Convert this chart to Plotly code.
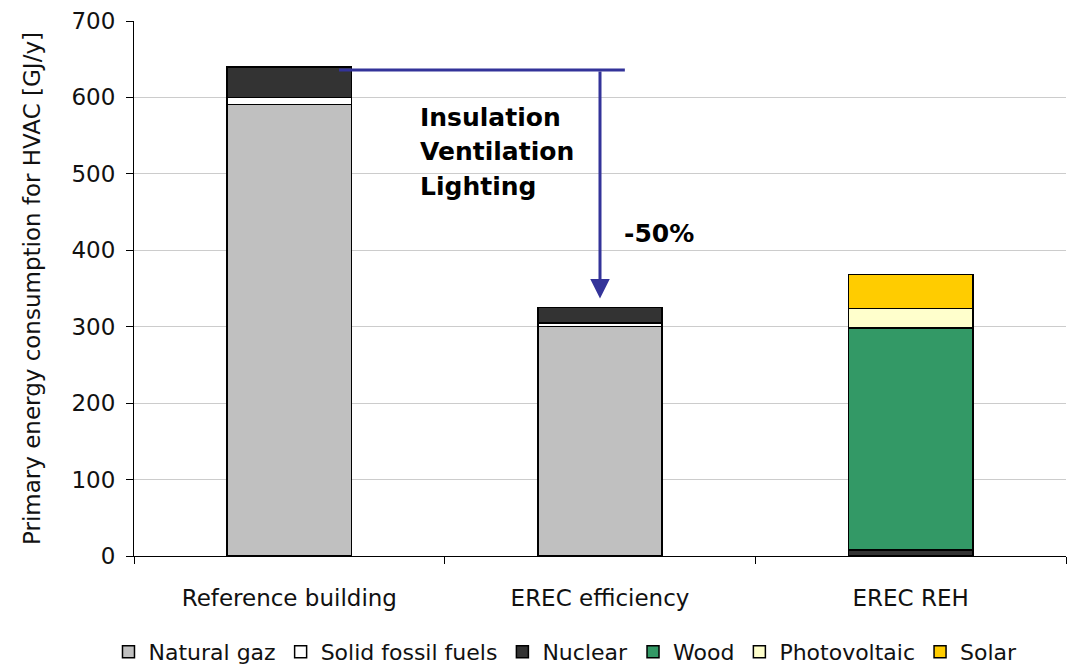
import plotly.graph_objects as go

categories = ["Reference building", "EREC efficiency", "EREC REH"]
natural_gaz = [591, 300, 0]
solid_fossil = [9, 5, 0]
nuclear = [40, 20, 8]
wood = [0, 0, 290]
photovoltaic = [0, 0, 26]
solar = [0, 0, 44]

series = [
    ("Natural gaz", natural_gaz, "#C0C0C0"),
    ("Solid fossil fuels", solid_fossil, "#FFFFFF"),
    ("Nuclear", nuclear, "#333333"),
    ("Wood", wood, "#339966"),
    ("Photovoltaic", photovoltaic, "#FFFFCC"),
    ("Solar", solar, "#FFCC00"),
]

FONT = "DejaVu Sans"
fig = go.Figure()
for name, vals, col in series:
    fig.add_trace(go.Bar(
        x=categories, y=vals, name=name, width=0.4,
        marker=dict(color=col, line=dict(color="black", width=1.5)),
    ))

fig.update_layout(
    barmode="stack",
    width=1071, height=667,
    margin=dict(l=134, r=5, t=21, b=111),
    plot_bgcolor="white", paper_bgcolor="white",
    font=dict(family=FONT, size=23, color="#111111"),
    legend=dict(orientation="h", x=0.528, xanchor="center", xref="container",
                y=(667 - 652) / 667, yanchor="middle", yref="container",
                traceorder="normal", font=dict(size=22), itemwidth=30,
                tracegroupgap=0),
    yaxis=dict(range=[0, 700], dtick=100, showgrid=True, gridcolor="#CCCCCC",
               showline=True, linecolor="black", linewidth=1, ticks="outside",
               ticklen=7, tickcolor="black", zeroline=False, automargin=False,
               ticklabelstandoff=6,
               title=dict(text="Primary energy consumption for HVAC [GJ/y]", standoff=24,
                          font=dict(size=23))),
    xaxis=dict(showline=True, linecolor="black", linewidth=1, ticks="outside",
               tickson="boundaries", ticklen=7, tickcolor="black", range=[-0.5, 2.5],
               automargin=False, ticklabelstandoff=21),
    showlegend=True,
)

arrow_col = "#333399"
fig.add_shape(type="line", xref="x", yref="y", x0=0.16, x1=1.08, y0=636, y1=636,
              line=dict(color=arrow_col, width=3))
fig.add_annotation(x=1, y=337, ax=1, ay=636, xref="x", yref="y", axref="x", ayref="y",
                   text="", showarrow=True, arrowhead=2, arrowsize=1.3, arrowwidth=3,
                   arrowcolor=arrow_col)
for txt, yv in [("Insulation", 574), ("Ventilation", 529), ("Lighting", 484)]:
    fig.add_annotation(x=0.414, y=yv, xref="x", yref="y", xanchor="left", yanchor="middle",
                       text="<b>" + txt + "</b>", showarrow=False, align="left",
                       font=dict(size=25, color="black"))
fig.add_annotation(x=1.071, y=422, xref="x", yref="y", xanchor="left", yanchor="middle",
                   text="<b>-50%</b>", showarrow=False, font=dict(size=25, color="black"))

fig.write_html("out.html", config={"displayModeBar": False},
               post_script="document.body.style.margin='0';document.body.style.overflow='hidden';")
